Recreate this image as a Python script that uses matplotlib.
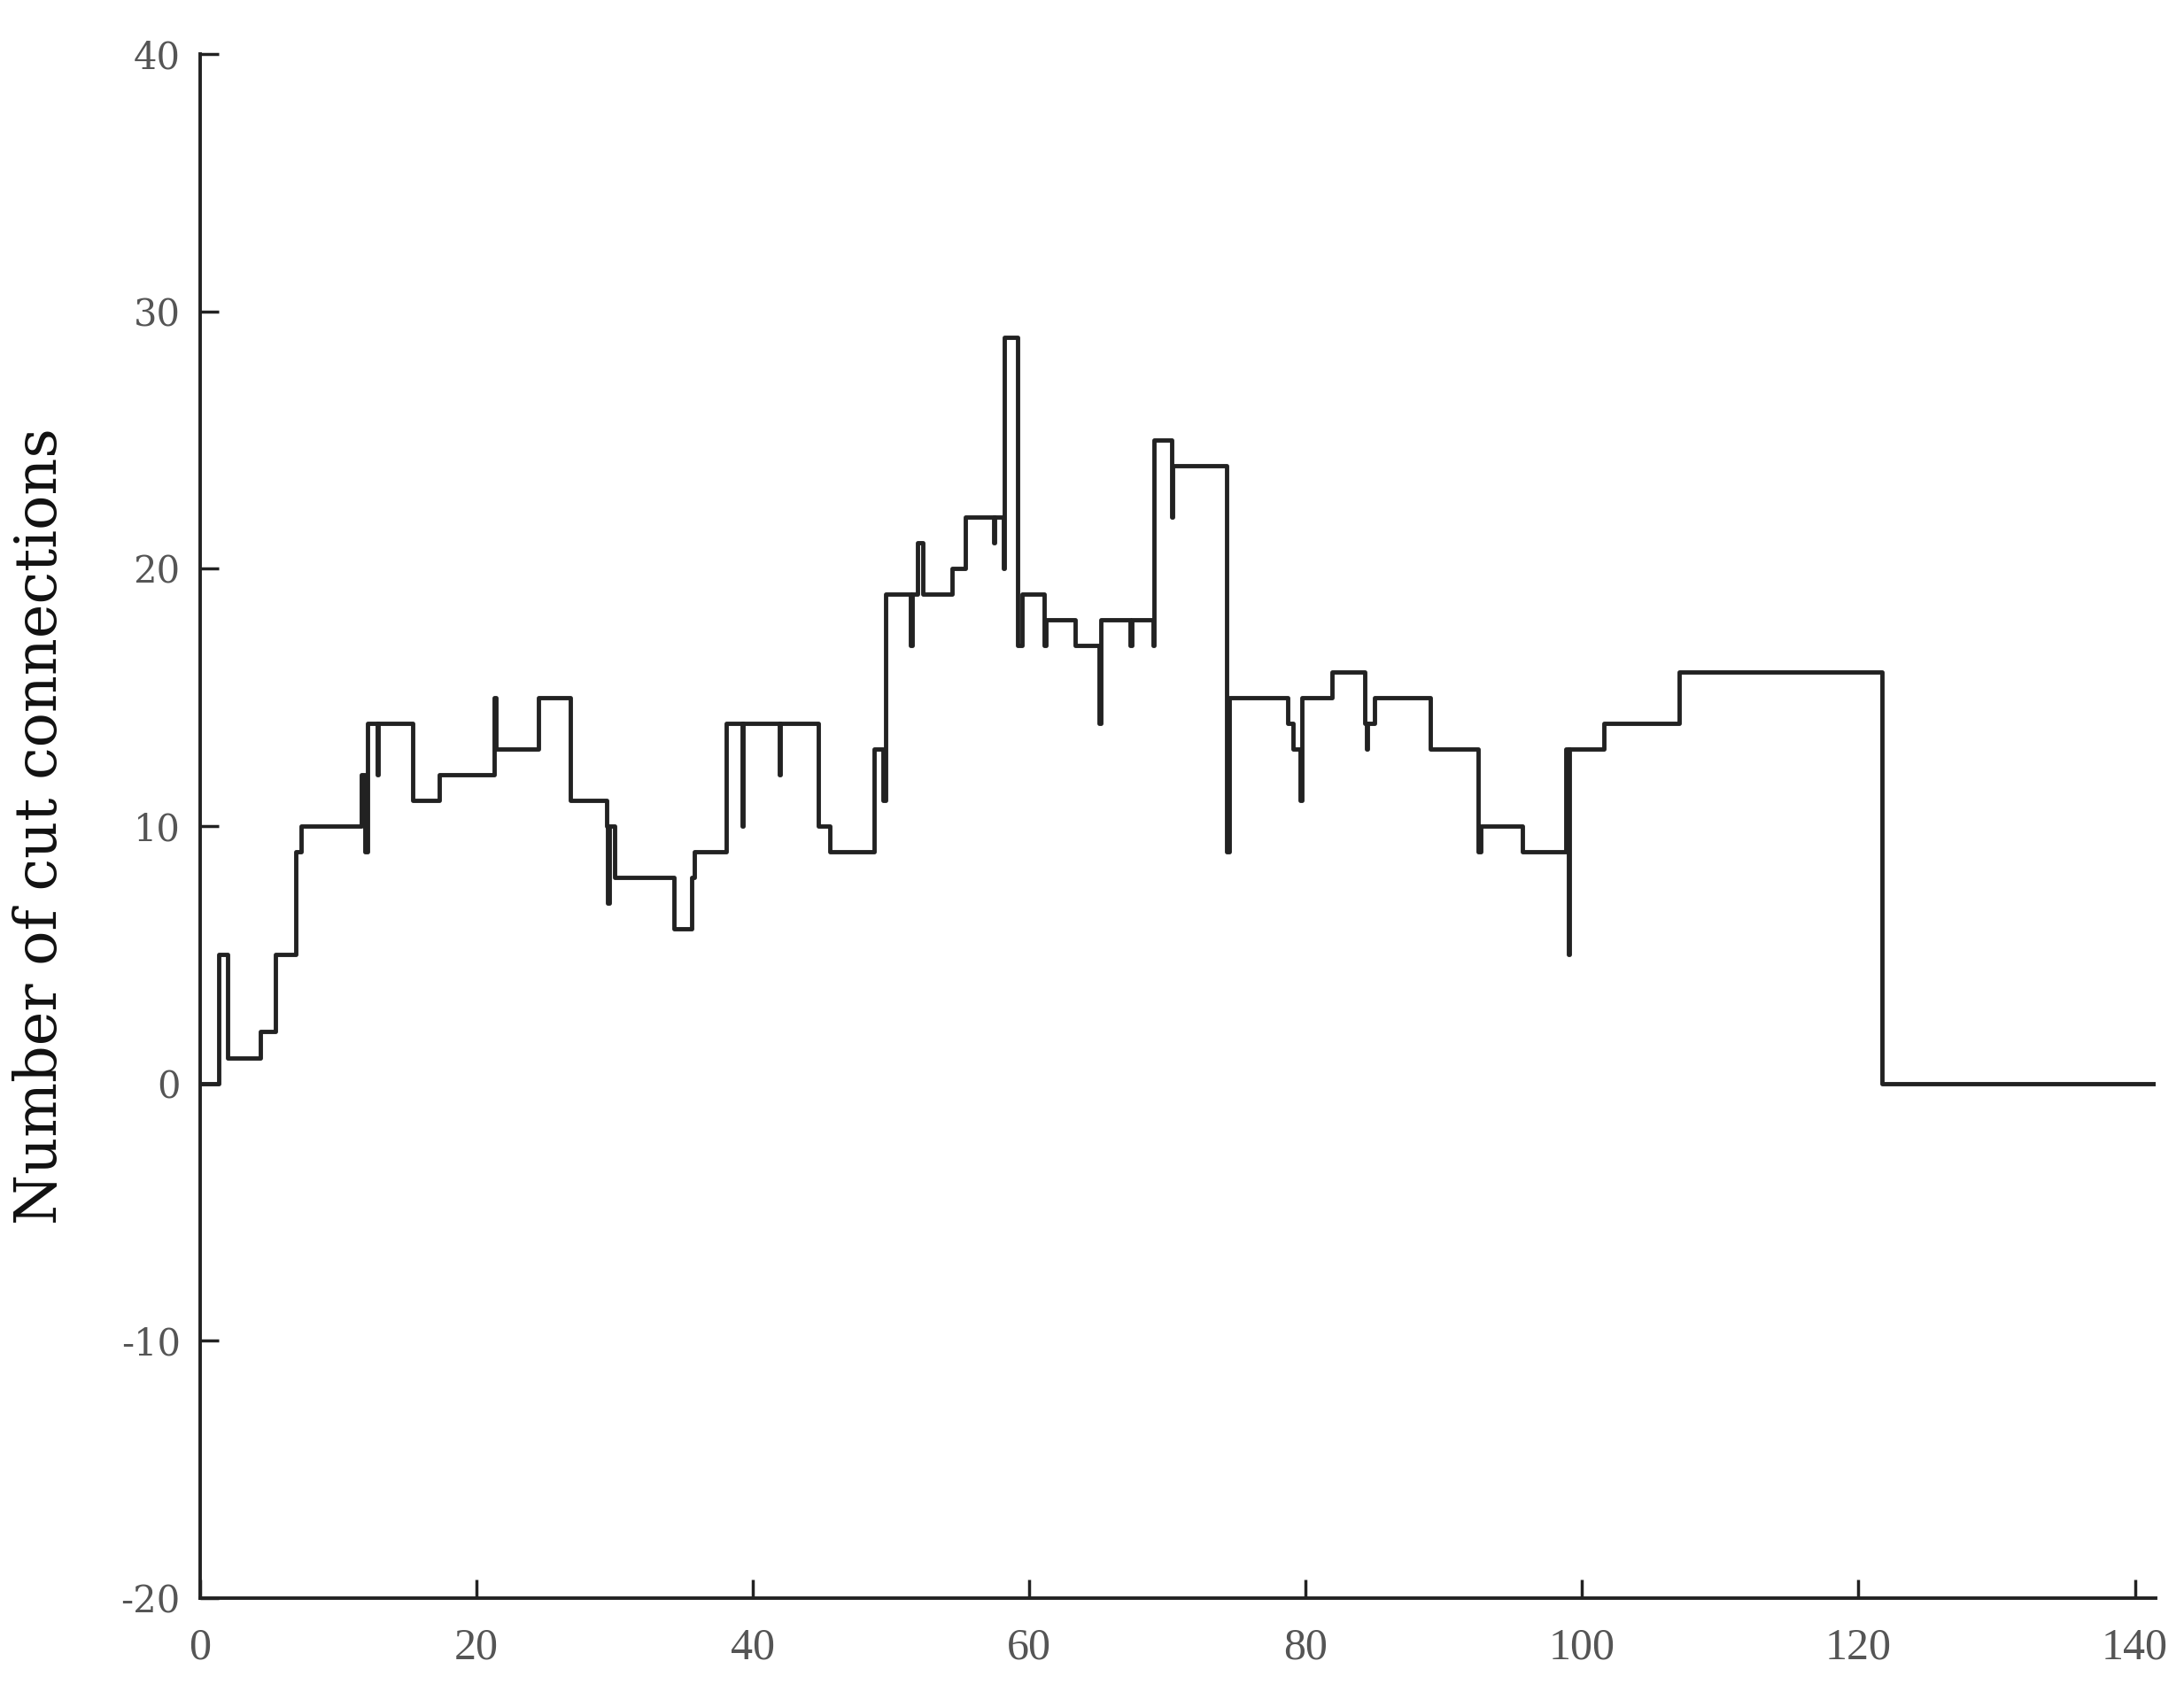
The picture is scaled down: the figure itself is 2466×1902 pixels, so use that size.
import matplotlib.pyplot as plt

# step positions (x where the value changes) and the value held after each change
change_x = [0, 1.35, 2.0, 4.35, 5.45, 6.9, 7.3, 11.7, 11.95, 12.1, 12.8, 12.9,
            15.4, 17.3, 21.3, 21.4, 24.5, 26.8, 29.4, 29.5, 29.6, 30.0, 34.3,
            35.6, 35.75, 38.1, 39.2, 39.3, 41.9, 42.0, 44.75, 45.6, 48.8, 49.4,
            49.6, 51.4, 51.5, 51.9, 52.3, 54.4, 55.4, 57.4, 57.5, 58.1, 58.2,
            59.15, 59.5, 61.1, 61.2, 63.3, 65.05, 65.15, 67.3, 67.4, 68.95,
            69.05, 70.3, 70.4, 74.3, 74.5, 78.7, 79.1, 79.6, 79.75, 81.9, 84.3,
            84.4, 84.5, 85.0, 89.0, 92.5, 92.7, 95.7, 98.8, 99.0, 99.1, 101.6,
            107.0, 121.7]
change_y = [0, 5, 1, 2, 5, 9, 10, 12, 9, 14, 12, 14,
            11, 12, 15, 13, 15, 11, 10, 7, 10, 8, 6,
            8, 9, 14, 10, 14, 12, 14, 10, 9, 13, 11,
            19, 17, 19, 21, 19, 20, 22, 21, 22, 20, 29,
            17, 19, 17, 18, 17, 14, 18, 17, 18, 17,
            25, 22, 24, 9, 15, 14, 13, 11, 15, 16, 14,
            13, 14, 15, 13, 9, 10, 9, 13, 5, 13, 14,
            16, 0]
x_end = 141.5

x_ticks = [0, 20, 40, 60, 80, 100, 120, 140]
y_ticks = [-20, -10, 0, 10, 20, 30, 40]
y_tick_labels = ['-20', '-10', '0', '10', '20', '30', '40']

fig = plt.figure(figsize=(24.66, 19.02), dpi=100)
ax = fig.add_axes([0.0916, 0.051, 0.8954, 0.917])

ax.step(change_x + [x_end], change_y + [change_y[-1]], where='post',
        color='#222222', lw=3.5)

ax.set_xlim(0, x_end)
ax.set_ylim(-20, 40)
ax.set_xticks(x_ticks)
ax.set_yticks(y_ticks)
ax.set_yticklabels(y_tick_labels)

for side in ['top', 'right']:
    ax.spines[side].set_visible(False)
for side in ['left', 'bottom']:
    ax.spines[side].set_linewidth(2.8)
    ax.spines[side].set_color('#222222')

ax.tick_params(direction='in', length=15, width=2.5, color='#222222',
               labelcolor='#555555')
ax.tick_params(axis='x', pad=24)
ax.tick_params(axis='y', pad=16)
for lab in ax.get_xticklabels():
    lab.set_family('Liberation Serif')
    lab.set_fontsize(36)
for lab in ax.get_yticklabels():
    lab.set_family('DejaVu Serif')
    lab.set_fontsize(30)

ax.set_ylabel('Number of cut connections', family='DejaVu Serif',
              fontsize=47, color='#111111', labelpad=42)

fig.savefig('out.png', dpi=100)
